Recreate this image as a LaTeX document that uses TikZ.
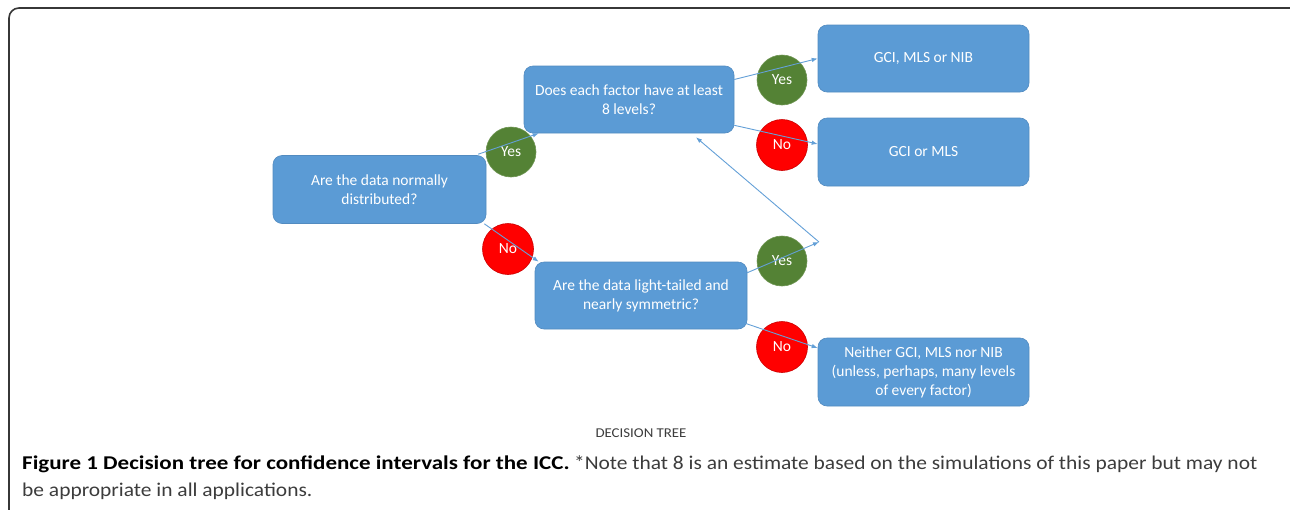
\documentclass[tikz,border=0pt]{standalone}
\usepackage{fontspec}
\setmainfont{Carlito}
\newfontfamily\capreg[FakeStretch=1.10]{Carlito}
\newfontfamily\capbold[FakeStretch=1.18]{Carlito Bold}
\newfontfamily\titlefont[FakeStretch=1.10]{Carlito}
\usetikzlibrary{arrows.meta,calc}
\definecolor{boxblue}{RGB}{91,155,213}
\definecolor{lineblue}{RGB}{100,160,215}
\definecolor{yesgreen}{RGB}{84,130,53}
\definecolor{nored}{RGB}{255,0,0}
\definecolor{framegray}{RGB}{55,55,55}
\definecolor{capgray}{RGB}{60,60,60}
\tikzset{
  qbox/.style={fill=boxblue, draw=boxblue!90!black, line width=0.6pt, rounded corners=9pt, inner sep=0pt,
    text=white, align=center, font=\fontsize{15.5}{19}\selectfont},
  yescirc/.style={circle, fill=yesgreen, draw=yesgreen!85!white, line width=0.6pt, minimum size=50pt, inner sep=0pt,
    text=white, font=\fontsize{15.5}{18}\selectfont},
  nocirc/.style={circle, fill=nored, draw=nored!80!black, line width=0.6pt, minimum size=51pt, inner sep=0pt,
    text=white, font=\fontsize{15.5}{18}\selectfont},
  conn/.style={draw=lineblue, line width=0.9pt, -{Latex[length=6pt,width=4.5pt]}},
}
\begin{document}
\begin{tikzpicture}[x=1pt,y=-1pt]
\useasboundingbox (0,0) rectangle (1290,509);
% frame
\draw[framegray, line width=1.6pt, rounded corners=10pt] (9,520) -- (9,8) -- (1300,8);
% boxes
\node[qbox, minimum width=213pt, minimum height=68pt] (A) at (379.5,189.5) {Are the data normally\\distributed?};
\node[qbox, minimum width=210pt, minimum height=67pt] (B) at (629,99.5) {Does each factor have at least\\8 levels?};
\node[qbox, minimum width=212pt, minimum height=67pt] (C) at (641,295.5) {Are the data light-tailed and\\nearly symmetric?};
\node[qbox, minimum width=211pt, minimum height=67pt] (D) at (923.5,58.5) {GCI, MLS or NIB};
\node[qbox, minimum width=211pt, minimum height=68pt] (E) at (923.5,152) {GCI or MLS};
\node[qbox, minimum width=211pt, minimum height=68pt] (F) at (923.5,372) {Neither GCI, MLS nor NIB\\(unless, perhaps, many levels\\of every factor)};
% circles
\node[yescirc] (y1) at (511,152) {Yes};
\node[nocirc] (n1) at (508,249) {No};
\node[yescirc] (y2) at (782,80) {Yes};
\node[nocirc] (n2) at (782,145) {No};
\node[yescirc] (y3) at (782,261) {Yes};
\node[nocirc] (n3) at (782,347) {No};
% connectors
\coordinate (J) at (819,242);
\draw[conn] ($(A.north east)+(-8,-1)$) -- ($(B.south west)+(15,0)$);
\draw[conn] ($(A.south east)+(-2,0)$) -- ($(C.north west)+(4,0)$);
\draw[conn] ($(B.east)+(0,-20)$) -- ($(D.west)+(0,0)$);
\draw[conn] ($(B.south east)+(0,-8)$) -- ($(E.west)+(0,-8)$);
\draw[conn] ($(C.north east)+(0,11)$) -- (J);
\draw[conn] (J) -- ($(B.south)+(67,4)$);
\draw[conn] ($(C.south east)+(-2,-6)$) -- ($(F.west)+(0,-24)$);
% caption
\node[text=capgray, font=\titlefont\fontsize{13.5}{15}\selectfont] (title) at (641,433) {DECISION TREE};
\node[anchor=base west, inner sep=0pt, font=\fontsize{19.5}{24}\selectfont] (cap1) at (22,469)
  {{\capbold Figure 1 Decision tree for confidence intervals for the ICC.} {\capreg\color{capgray}*Note that 8 is an estimate based on the simulations of this paper but may not}};
\node[anchor=base west, inner sep=0pt, font=\capreg\fontsize{19.5}{24}\selectfont, text=capgray] (cap2) at (22,496)
  {be appropriate in all applications.};
\end{tikzpicture}
\end{document}
